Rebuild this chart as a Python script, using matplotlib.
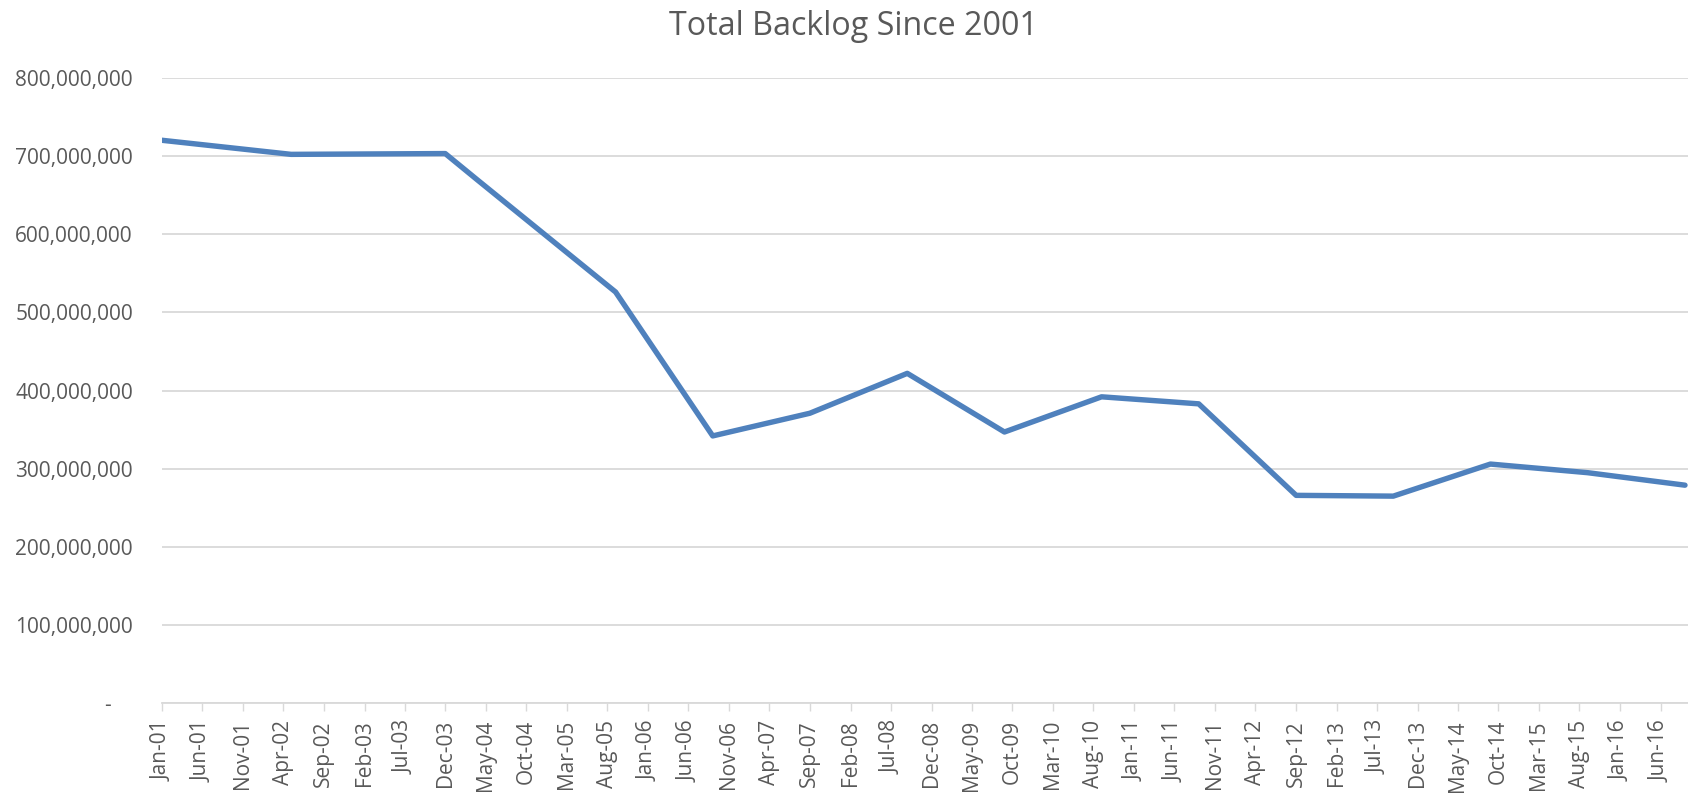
import matplotlib
matplotlib.use('Agg')
import matplotlib.pyplot as plt
import matplotlib.dates as mdates
import matplotlib.ticker as mticker
import pandas as pd

# Data (fiscal year points, mostly September)
dates = ['2001-01', '2002-05', '2003-12', '2004-04', '2005-09', '2006-09',
         '2007-09', '2008-09', '2009-09', '2010-09', '2011-09', '2012-09',
         '2013-09', '2014-09', '2015-09', '2016-09']
backlog = [720e6, 702e6, 703e6, 669e6, 526e6, 342e6,
           371e6, 422e6, 347e6, 392e6, 383e6, 266e6,
           265e6, 306e6, 295e6, 279e6]

title = 'Total Backlog Since 2001'
y_ticks = [0, 100e6, 200e6, 300e6, 400e6, 500e6, 600e6, 700e6, 800e6]

x = pd.to_datetime(dates)
tick_dates = pd.date_range('2001-01-01', '2016-06-01', freq='5MS')

text_gray = '#595959'
grid_gray = '#d9d9d9'

fig = plt.figure(figsize=(16.88, 7.93), dpi=100)
ax = fig.add_axes([0.096, 0.113, 0.906, 0.789])

ax.plot(x, backlog, color='#4f81bd', linewidth=3.9,
        solid_capstyle='round', solid_joinstyle='round', zorder=3)

ax.set_xlim(pd.Timestamp('2001-01-01'), pd.Timestamp('2016-09-25'))
ax.set_ylim(0, 800e6)

ax.set_yticks(y_ticks)
def fmt(v, pos):
    if v == 0:
        return '-    '
    return f'{v:,.0f}'
ax.yaxis.set_major_formatter(mticker.FuncFormatter(fmt))
ax.grid(axis='y', color=grid_gray, linewidth=1.3, zorder=0)
ax.tick_params(axis='y', length=0, pad=21, labelsize=15, labelcolor=text_gray)
for lab in ax.get_yticklabels():
    lab.set_family('Open Sans')

ax.set_xticks(tick_dates)
ax.xaxis.set_major_formatter(mdates.DateFormatter('%b-%y'))
ax.tick_params(axis='x', length=6, width=1, color=grid_gray, pad=6,
               labelsize=15, labelcolor=text_gray, labelrotation=90)
for lab in ax.get_xticklabels():
    lab.set_family('Open Sans')

for s in ['top', 'right', 'left']:
    ax.spines[s].set_visible(False)
ax.spines['bottom'].set_color(grid_gray)
ax.spines['bottom'].set_linewidth(1.3)

fig.text(0.5053, 0.956, title, ha='center', va='baseline', fontsize=23.2,
         color=text_gray, family='Open Sans')

fig.savefig('out.png', dpi=100)
